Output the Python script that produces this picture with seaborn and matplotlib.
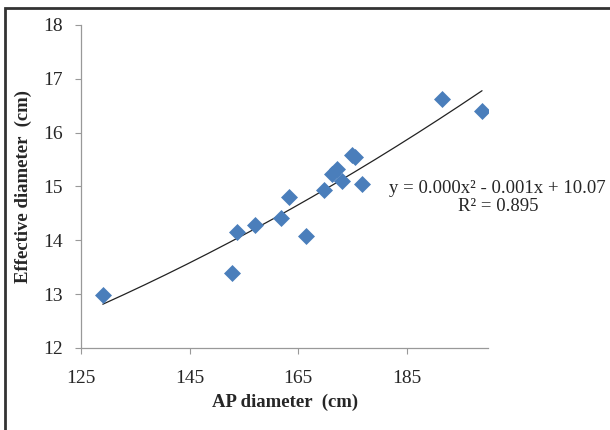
import numpy as np
import pandas as pd
import matplotlib
matplotlib.use('Agg')
import matplotlib.pyplot as plt
import seaborn as sns
from matplotlib.patches import Rectangle

# values
ap_diameter = [129.0, 152.8, 153.8, 157.0, 161.9, 163.3, 166.5, 169.7,
               171.3, 172.2, 173.0, 174.9, 175.5, 176.7, 191.5, 198.9]
eff_diameter = [12.98, 13.40, 14.15, 14.28, 14.42, 14.81, 14.07, 14.94,
                15.23, 15.32, 15.10, 15.58, 15.54, 15.05, 16.63, 16.40]
x_ticks = [125, 145, 165, 185]
y_ticks = [12, 13, 14, 15, 16, 17, 18]
equation = 'y = 0.000x² - 0.001x + 10.07\nR² = 0.895'

df = pd.DataFrame({'ap': ap_diameter, 'eff': eff_diameter})

sns.set_style('white')
plt.rcParams['font.family'] = ['Liberation Serif', 'DejaVu Serif']

fig = plt.figure(figsize=(6.1, 4.3), dpi=100)
ax = fig.add_axes([0.133, 0.191, 0.667, 0.751])

# quadratic trendline (Excel style, drawn from min to max x)
coef = np.polyfit(df['ap'], df['eff'], 2)
xs = np.linspace(df['ap'].min(), df['ap'].max(), 200)
trend = pd.DataFrame({'x': xs, 'y': np.polyval(coef, xs)})
sns.lineplot(data=trend, x='x', y='y', ax=ax, color='#222222', linewidth=0.9)

sns.scatterplot(data=df, x='ap', y='eff', ax=ax, marker='D', s=75,
                color='#4a7ebb', edgecolor='#4a7ebb', linewidth=0, zorder=3)

ax.set_xlim(125, 200)
ax.set_ylim(12, 18)
ax.set_xticks(x_ticks)
ax.set_yticks(y_ticks)
ax.tick_params(axis='both', direction='out', length=4, width=0.8,
               color='#999999', labelsize=14, bottom=True, left=True)
ax.tick_params(axis='x', pad=12)
ax.tick_params(axis='y', pad=9)
for side in ['top', 'right']:
    ax.spines[side].set_visible(False)
for side in ['left', 'bottom']:
    ax.spines[side].set_color('#999999')
    ax.spines[side].set_linewidth(0.9)

ax.set_xlabel('AP diameter  (cm)', fontsize=13.5, fontweight='bold', labelpad=5)
ax.set_ylabel('Effective diameter  (cm)', fontsize=13.5, fontweight='bold', labelpad=8)

fig.text(0.816, 0.54, equation, ha='center', va='center', fontsize=13.5,
         multialignment='center', linespacing=1.1)

# outer frame (only top and left edges visible in the crop)
fig.patches.append(Rectangle((5 / 610, -0.2), 1.2, 0.2 + 1 - 8 / 430,
                             transform=fig.transFigure, fill=False,
                             edgecolor='#333333', linewidth=2))

fig.savefig('out.png', dpi=100)
